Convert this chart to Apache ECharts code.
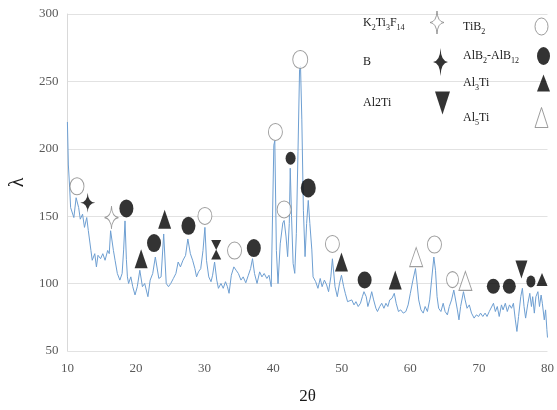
<!DOCTYPE html>
<html>
<head>
<meta charset="utf-8">
<script src="https://cdn.jsdelivr.net/npm/echarts@6/dist/echarts.min.js"></script>
<style>
html, body { margin: 0; padding: 0; background: #fff; }
#chart { width: 557px; height: 410px; }
</style>
</head>
<body>
<div id="chart"></div>
<script>
// XRD pattern: diffraction angle (2θ, degrees) and measured intensity
const twoTheta = [
  10.0, 10.14, 10.33, 10.47, 10.94, 11.27, 11.64, 11.88, 12.21, 12.49, 12.82, 13.05,
  13.43, 13.62, 13.99, 14.23, 14.46, 14.84, 15.16, 15.49, 15.87, 16.1, 16.3, 16.71,
  16.95, 17.28, 17.65, 17.98, 18.2, 18.4, 18.6, 18.75, 18.92, 19.25, 19.53, 19.86,
  20.19, 20.56, 20.94, 21.27, 21.74, 22.07, 22.44, 22.82, 23.33, 23.66, 24.04, 24.41,
  24.74, 25.07, 25.45, 25.82, 26.15, 26.48, 26.85, 27.23, 27.56, 27.93, 28.26, 28.59,
  28.83, 29.11, 29.44, 29.77, 30.05, 30.28, 30.61, 30.94, 31.17, 31.46, 31.78, 32.02,
  32.39, 32.72, 33.05, 33.33, 33.57, 33.9, 34.27, 34.6, 34.93, 35.31, 35.63, 36.01,
  36.38, 36.71, 36.99, 37.28, 37.65, 38.03, 38.36, 38.69, 39.08, 39.39, 39.72, 40.1,
  40.24, 40.47, 40.71, 41.03, 41.41, 41.6, 41.88, 42.11, 42.35, 42.49, 42.68, 42.91,
  43.15, 43.38, 43.62, 43.85, 43.99, 44.18, 44.41, 44.65, 44.88, 45.12, 45.35, 45.64,
  45.82, 46.2, 46.53, 46.86, 47.14, 47.47, 47.8, 48.08, 48.41, 48.64, 49.02, 49.35,
  49.67, 49.96, 50.28, 50.52, 50.85, 51.13, 51.46, 51.79, 52.07, 52.4, 52.73, 53.01,
  53.24, 53.57, 53.81, 54.09, 54.37, 54.65, 54.98, 55.21, 55.54, 55.83, 56.15, 56.44,
  56.72, 57.0, 57.33, 57.66, 57.94, 58.27, 58.6, 58.97, 59.35, 59.68, 60.0, 60.38,
  60.75, 60.99, 61.22, 61.55, 61.88, 62.16, 62.49, 62.82, 63.1, 63.43, 63.67, 63.9,
  64.13, 64.46, 64.79, 65.07, 65.4, 65.68, 66.01, 66.34, 66.58, 66.86, 67.09, 67.33,
  67.75, 67.99, 68.27, 68.6, 68.92, 69.3, 69.63, 69.96, 70.24, 70.57, 70.9, 71.18,
  71.51, 71.79, 72.12, 72.4, 72.68, 72.96, 73.29, 73.52, 73.85, 74.14, 74.46, 74.75,
  75.03, 75.31, 75.54, 75.78, 76.1, 76.34, 76.58, 76.81, 77.14, 77.42, 77.66, 77.84,
  78.08, 78.31, 78.6, 78.83, 79.07, 79.25, 79.53, 79.72, 79.91, 80.0
];
const intensity = [
  219.9, 188, 171, 156.4, 149, 163.7, 156.4, 147.8, 151.5, 141.7, 149, 139.3,
  124.6, 117.3, 122.2, 112.4, 121, 118.5, 122.2, 117.3, 124.6, 122.2, 139.2, 124.6,
  117.3, 107.5, 102.6, 107.5, 125, 146.5, 118, 105, 100.1, 105, 97.7, 91.6,
  97.7, 109.9, 97.7, 100.1, 90.3, 102.6, 107.5, 119.7, 103.8, 105, 136.8, 100.1,
  97.7, 100.1, 103.8, 107.5, 116, 112.4, 117.3, 120.9, 133.1, 122.2, 117.3, 111.1,
  105, 108.7, 111.1, 124.5, 141.7, 117.3, 105, 101.4, 106.2, 116, 102.6, 96.5,
  100.1, 96.5, 101.4, 97.7, 92.8, 106.2, 112.4, 109.9, 107.5, 102.6, 105, 100.6,
  106.2, 111.1, 118.5, 107.5, 100.1, 108.7, 105, 107.5, 103.8, 106.2, 97.7, 202.7,
  206, 124.6, 100, 129.5, 145, 146.8, 134.6, 120, 144.6, 185.6, 149.6, 114.9,
  107.6, 137, 197.8, 258.9, 261.3, 222, 154.4, 120, 144.6, 161.7, 144.6, 125,
  105, 101.4, 96.5, 103.8, 97.7, 102.6, 99, 94, 105, 118.4, 97.7, 90.3,
  100, 106.2, 97.7, 92.8, 86.6, 85.4, 87.9, 84.2, 86.6, 83, 85.4, 90.3,
  94, 90.3, 83, 87.9, 94, 87.9, 81.7, 79.3, 83, 85.4, 81.7, 85.4,
  83, 87.9, 89.1, 92.8, 85.4, 79.3, 80.5, 78.1, 79.3, 84.2, 92.8, 102.6,
  111.2, 100, 87.9, 80.5, 78.1, 83, 79.3, 87.9, 102.6, 119.7, 109.9, 90.3,
  81.7, 79.3, 85.4, 79.3, 76.8, 83, 87.9, 95.2, 96.5, 80.5, 73.1, 83,
  94, 87.9, 81.7, 84.2, 78.1, 74.4, 76.8, 75.6, 78.1, 75.6, 78.1, 75.6,
  79.3, 78.1, 85.4, 79.3, 83, 75.6, 84.2, 80.5, 85.4, 79.3, 84.2, 81.7,
  85.4, 73.1, 64.5, 75.6, 90.3, 96.5, 83, 74.4, 85.4, 92.8, 83, 90.3,
  78.1, 90.3, 94, 83, 91.5, 85.4, 73.1, 80.5, 65.8, 60
];

// Phase identification marks [2θ, height]
const tib2Marks  = [[11.4, 172.2], [30.05, 150.2], [34.37, 124.5], [40.33, 212.5], [41.6, 155],
                    [43.95, 266.3], [48.64, 129.4], [63.52, 129], [66.15, 103]];
const alb2Marks  = [[18.6, 155.8], [22.63, 130.1], [27.65, 142.9], [37.18, 126.4], [42.54, 193],
                    [45.12, 171], [53.34, 102.6], [72.1, 98], [74.43, 98], [77.58, 101.5]];
const al3tiMarks = [[20.75, 118.4], [24.18, 147.7], [31.69, 121.6], [49.96, 116], [57.8, 102.6], [79.2, 103]];
const al5tiMarks = [[60.85, 119.7], [68.03, 102]];
const al2tiMarks = [[31.69, 128.6], [76.2, 110.5]];
const boronMarks = [[12.96, 160]];
const k2ti3f14Marks = [[16.43, 149]];

// Axis ticks
const xTicks = [10, 20, 30, 40, 50, 60, 70, 80];
const yTicks = [50, 100, 150, 200, 250, 300];

// ---- styling ----
const serif = "'Liberation Serif', 'Times New Roman', serif";
const starPath = 'path://M50,0 Q53,47 100,50 Q53,53 50,100 Q47,53 0,50 Q47,47 50,0 Z';
const downTriPath = 'path://M0,0 L100,0 L50,100 Z';
const ovalPath = 'path://M50,0 A50,50 0 1,1 50,100 A50,50 0 1,1 50,0 Z';
const openFill = '#ffffff';
const openEdge = '#858585';
const solid = '#000000';

// marker sizes [w, h] per point
const tib2Sizes  = [[14,17],[14,17],[14,17],[14,17],[14,17],[15,18],[14,17],[14,17],[12,16]];
const alb2Sizes  = [[14,18],[14,18],[14,18],[14,18],[10,13],[15,19],[14,17],[13,15],[13,15],[9,12]];
const al3tiSizes = [[13,19],[13,19],[10,10],[13,19],[13,19],[11,13]];
const al5tiSizes = [[13,19],[13,19]];
const al2tiSizes = [[10,10],[12,18]];

const richText = {
  n: { fontFamily: serif, fontSize: 12, lineHeight: 18, color: '#1a1a1a', align: 'left' },
  s: { fontFamily: serif, fontSize: 8, lineHeight: 9, color: '#1a1a1a', align: 'left', verticalAlign: 'bottom' }
};
const legendLabels = {
  'K2Ti3F14': '{n|K}{s|2}{n|Ti}{s|3}{n|F}{s|14}',
  'B': '{n|B}',
  'Al2Ti': '{n|Al2Ti}',
  'TiB2': '{n|TiB}{s|2}',
  'AlB2-AlB12': '{n|AlB}{s|2}{n|-AlB}{s|12}',
  'Al3Ti': '{n|Al}{s|3}{n|Ti}',
  'Al5Ti': '{n|Al}{s|5}{n|Ti}'
};

// one legend entry: text starting at textLeft, icon centred on (cx, cy)
function legendEntry(name, textLeft, cx, cy, w, h, open) {
  const boxW = cx - w / 2 - 5 - textLeft;
  return {
    data: [name],
    left: textLeft,
    top: cy - h / 2 + Math.min(0, h / 2 - 9),
    padding: 0,
    orient: 'vertical',
    align: 'right',
    selectedMode: false,
    symbolKeepAspect: false,
    itemWidth: w,
    itemHeight: h,
    itemStyle: open ? { borderWidth: 1, borderColor: openEdge, color: openFill } : { borderWidth: 0 },
    formatter: (n) => legendLabels[n],
    textStyle: { width: boxW, color: '#1a1a1a', rich: richText }
  };
}

function marks(name, data, symbol, sizes, open, z) {
  return {
    name: name,
    type: 'scatter',
    data: data,
    symbol: symbol,
    symbolSize: (v, p) => sizes[p.dataIndex],
    itemStyle: open ? { color: openFill, borderColor: openEdge, borderWidth: 1 } : { color: solid },
    z: z || 5,
    silent: true
  };
}

const chart = echarts.init(document.getElementById('chart'), null, { renderer: 'canvas' });
chart.setOption({
  animation: false,
  backgroundColor: '#ffffff',
  grid: { left: 57, right: 3, top: 14, bottom: 55 },
  xAxis: {
    type: 'value',
    min: xTicks[0], max: xTicks[xTicks.length - 1], interval: xTicks[1] - xTicks[0],
    name: '2θ', nameLocation: 'middle', nameGap: 37,
    nameTextStyle: { fontFamily: serif, fontSize: 17, color: '#1a1a1a' },
    axisLine: { show: false }, axisTick: { show: false }, splitLine: { show: false },
    axisLabel: { fontFamily: serif, fontSize: 13, color: '#595959', margin: 11 }
  },
  yAxis: {
    type: 'value',
    min: yTicks[0], max: yTicks[yTicks.length - 1], interval: yTicks[1] - yTicks[0],
    name: 'λ', nameLocation: 'middle', nameRotate: 90, nameGap: 33,
    nameTextStyle: { fontFamily: serif, fontSize: 20, color: '#1a1a1a' },
    axisLine: { show: true, lineStyle: { color: '#d9d9d9', width: 1 } },
    axisTick: { show: false },
    splitLine: { lineStyle: { color: '#e2e2e2', width: 1 } },
    axisLabel: { fontFamily: serif, fontSize: 13, color: '#595959', margin: 9 }
  },
  legend: [
    legendEntry('K2Ti3F14', 363, 437, 22, 14, 23, true),
    legendEntry('B', 363, 440.5, 62, 15, 28, false),
    legendEntry('Al2Ti', 363, 442.5, 103, 15, 23, false),
    legendEntry('TiB2', 463, 541.5, 26.5, 13, 17, true),
    legendEntry('AlB2-AlB12', 463, 543.5, 56, 13, 18, false),
    legendEntry('Al3Ti', 463, 543.5, 83.5, 13, 17, false),
    legendEntry('Al5Ti', 463, 541.5, 117, 13, 20, true)
  ],
  series: [
    {
      name: 'pattern',
      type: 'line',
      data: twoTheta.map((t, i) => [t, intensity[i]]),
      showSymbol: false,
      symbol: 'none',
      lineStyle: { color: '#6e9fd2', width: 1 },
      z: 2,
      silent: true
    },
    marks('K2Ti3F14', k2ti3f14Marks, starPath, [[14, 23]], true),
    marks('B', boronMarks, starPath, [[15, 20]], false),
    marks('Al2Ti', al2tiMarks, downTriPath, al2tiSizes, false),
    marks('TiB2', tib2Marks, ovalPath, tib2Sizes, true),
    marks('AlB2-AlB12', alb2Marks, ovalPath, alb2Sizes, false),
    marks('Al3Ti', al3tiMarks, 'triangle', al3tiSizes, false),
    marks('Al5Ti', al5tiMarks, 'triangle', al5tiSizes, true)
  ]
});
</script>
</body>
</html>
